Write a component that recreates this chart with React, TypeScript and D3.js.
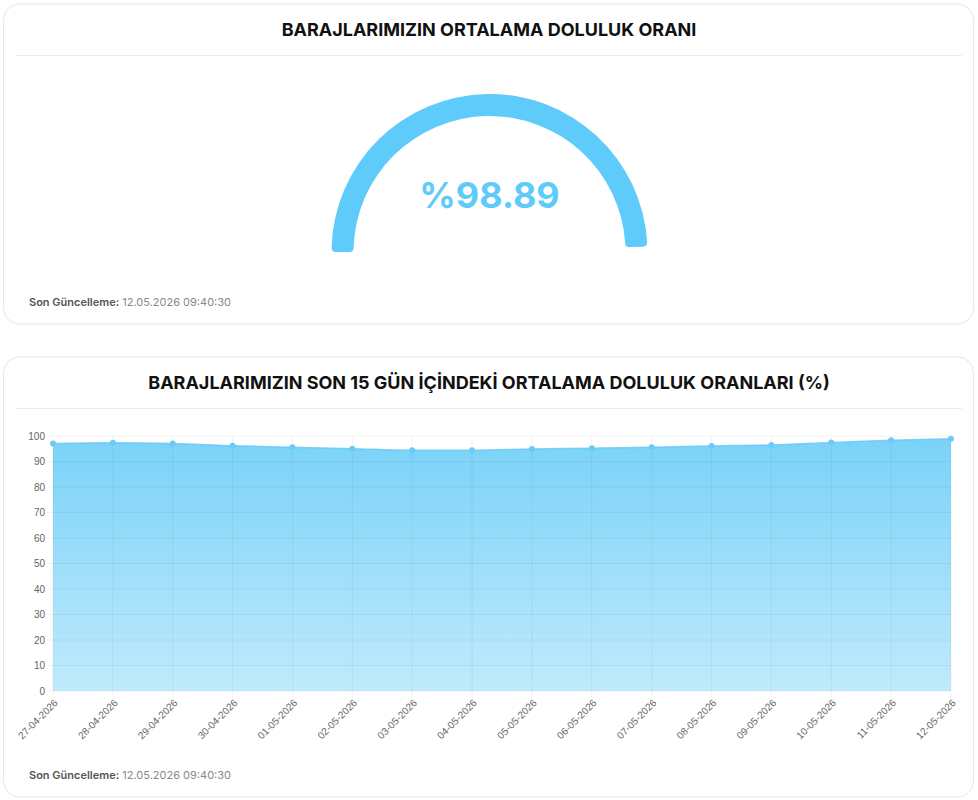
import React from 'react';
import * as d3 from 'd3';

const gaugeTitle = 'BARAJLARIMIZIN ORTALAMA DOLULUK ORANI';
const chartTitle = 'BARAJLARIMIZIN SON 15 GÜN İÇİNDEKİ ORTALAMA DOLULUK ORANLARI (%)';
const updatedLabel = 'Son Güncelleme:';
const updatedAt = '12.05.2026 09:40:30';
const gaugeValue = 98.89;

const dates = [
  '27-04-2026', '28-04-2026', '29-04-2026', '30-04-2026', '01-05-2026', '02-05-2026',
  '03-05-2026', '04-05-2026', '05-05-2026', '06-05-2026', '07-05-2026', '08-05-2026',
  '09-05-2026', '10-05-2026', '11-05-2026', '12-05-2026',
];
const values = [
  97.1, 97.4, 97.1, 96.2, 95.6, 95.0, 94.4, 94.4, 94.9, 95.2, 95.6, 96.1, 96.5, 97.5, 98.3, 98.89,
];
const yTicks = [0, 10, 20, 30, 40, 50, 60, 70, 80, 90, 100];

const W = 978;
const H = 800;
const blue = '#5fcbfb';
const titleFont = 'Inter, "Noto Sans", sans-serif';
const axisFont = '"Liberation Sans", Arial, sans-serif';

const Card: React.FC<{ y: number; h: number; title: string; titleY: number; lineY: number; footY: number }> = ({ y, h, title, titleY, lineY, footY }) => (
  <g>
    <rect x={3.5} y={y} width={970} height={h} rx={16} fill="#fff" stroke="#e6e6e6" />
    <text x={489} y={titleY} textAnchor="middle" fontFamily={titleFont} fontWeight={700} fontSize={18} fill="#111">{title}</text>
    <line x1={16} x2={962} y1={lineY} y2={lineY} stroke="#ececec" />
    <text x={29} y={footY} fontFamily={titleFont} fontSize={11}>
      <tspan fontWeight={600} fill="#555">{updatedLabel}</tspan>
      <tspan fill="#888"> {updatedAt}</tspan>
    </text>
  </g>
);

export default function App() {
  // gauge
  const cx = 489.5;
  const cy = 252;
  const arc = d3.arc<any>()
    .innerRadius(136)
    .outerRadius(158)
    .cornerRadius(4);
  const angle = d3.scaleLinear().domain([0, 100]).range([-Math.PI / 2, Math.PI / 2]);
  const gaugePath = arc({ startAngle: angle(0), endAngle: angle(gaugeValue) }) || '';

  // area chart
  const x = d3.scalePoint<string>().domain(dates).range([53, 951]);
  const y = d3.scaleLinear().domain([0, 100]).range([691, 436]);
  const area = d3.area<number>()
    .x((_, i) => x(dates[i])!)
    .y0(y(0))
    .y1(d => y(d))
    .curve(d3.curveMonotoneX);
  const line = d3.line<number>()
    .x((_, i) => x(dates[i])!)
    .y(d => y(d))
    .curve(d3.curveMonotoneX);

  return (
    <svg width={W} height={H} style={{ position: 'absolute', left: 0, top: 0, background: '#fff' }}>
      <defs>
        <linearGradient id="fillGrad" x1="0" y1="0" x2="0" y2="1">
          <stop offset="0%" stopColor="rgb(122,210,248)" />
          <stop offset="100%" stopColor="rgb(192,234,252)" />
        </linearGradient>
      </defs>

      <Card y={4} h={320} title={gaugeTitle} titleY={36} lineY={55.5} footY={306} />
      <path d={gaugePath} transform={`translate(${cx},${cy})`} fill={blue} />
      <text x={cx} y={208} textAnchor="middle" fontFamily={titleFont} fontWeight={700} fontSize={36} fill={blue}>
        %{gaugeValue.toFixed(2)}
      </text>

      <Card y={357} h={440} title={chartTitle} titleY={389} lineY={408.5} footY={779} />

      <path d={area(values) || ''} fill="url(#fillGrad)" />
      {yTicks.map(t => (
        <g key={t}>
          <line x1={47} x2={951} y1={y(t)} y2={y(t)} stroke="rgba(0,0,0,0.05)" />
          <text x={45} y={y(t)} dy="0.35em" textAnchor="end" fontFamily={axisFont} fontSize={10} fill="#666">{t}</text>
        </g>
      ))}
      {dates.map(d => (
        <g key={d}>
          <line x1={x(d)} x2={x(d)} y1={436} y2={697} stroke="rgba(0,0,0,0.05)" />
          <text
            transform={`translate(${x(d)! + 3},${701}) rotate(-45)`}
            textAnchor="end"
            dy="0.35em"
            fontFamily={axisFont}
            fontSize={10}
            fill="#666"
          >{d}</text>
        </g>
      ))}
      <path d={line(values) || ''} fill="none" stroke="rgba(100,200,245,0.8)" strokeWidth={1.5} />
      {values.map((v, i) => (
        <circle key={i} cx={x(dates[i])} cy={y(v)} r={3} fill="#6ccbf5" />
      ))}
    </svg>
  );
}
